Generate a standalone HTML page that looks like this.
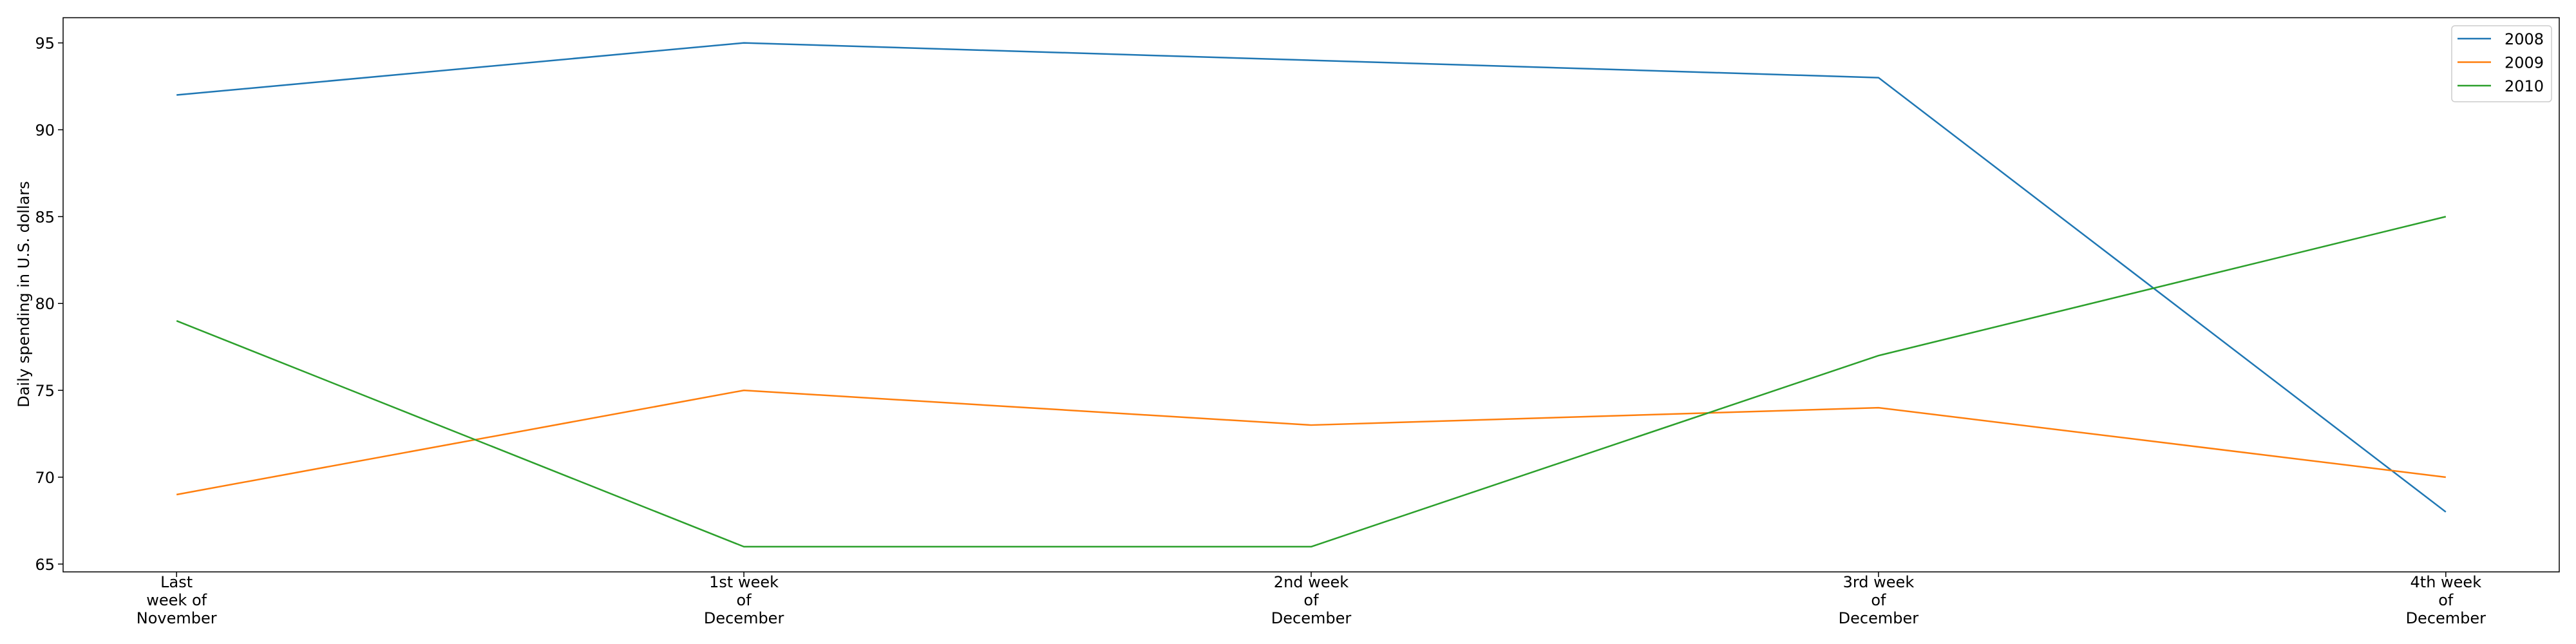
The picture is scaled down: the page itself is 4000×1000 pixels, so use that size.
<!DOCTYPE html>
<html><head><meta charset="utf-8"><style>
html,body{margin:0;padding:0;background:#fff;}
svg{display:block;font-family:"DejaVu Sans","Liberation Sans",sans-serif;}
</style></head><body>
<svg id="chart" width="4000" height="1000" viewBox="0 0 4000 1000">
<rect width="4000" height="1000" fill="#fff"/>
<g id="plot"></g>
</svg>
<script>
const categories = [["Last","week of","November"],["1st week","of","December"],["2nd week","of","December"],["3rd week","of","December"],["4th week","of","December"]];
const seriesNames = ["2008","2009","2010"];
const values2008 = [92,95,94,93,68];
const values2009 = [69,75,73,74,70];
const values2010 = [79,66,66,77,85];
const yTicks = [65,70,75,80,85,90,95];
const colors = ["#1f77b4","#ff7f0e","#2ca02c"];

const L=98,R=3974,T=27.5,B=888;
const xmin=-0.2,xmax=4.2,ymin=64.55,ymax=96.45;
const xs=i=>L+(i-xmin)/(xmax-xmin)*(R-L);
const ys=v=>B-(v-ymin)/(ymax-ymin)*(B-T);
const NS="http://www.w3.org/2000/svg";
const g=document.getElementById('plot');
function mk(t,a,p){const e=document.createElementNS(NS,t);for(const k in a)e.setAttribute(k,a[k]);(p||g).appendChild(e);return e;}
const FS=24;

yTicks.forEach(v=>{
  const y=ys(v);
  const tk=mk('line',{x1:L-8,x2:L,y1:y,y2:y,stroke:'#000','stroke-width':1.5});
  
  
  const t=mk('text',{x:L-13,y:y+9,'text-anchor':'end','font-size':FS,fill:'#000'});
  t.textContent=v;
  
  
});
categories.forEach((c,i)=>{
  const x=xs(i);
  const tk=mk('line',{x1:x,x2:x,y1:B,y2:B+8,stroke:'#000','stroke-width':1.5});
  
  
  const t=mk('text',{x:x,y:912,'text-anchor':'middle','font-size':FS,fill:'#000'});
  
  
  c.forEach((line,j)=>{const s=mk('tspan',{x:x,dy:j?28:0},t);s.textContent=line;});
});
const yl=mk('text',{x:0,y:0,transform:'translate(45,457) rotate(-90)','text-anchor':'middle','font-size':FS,fill:'#000'});
yl.textContent='Daily spending in U.S. dollars';



[values2008,values2009,values2010].forEach((vals,si)=>{
  const p=mk('polyline',{points:vals.map((v,i)=>xs(i)+','+ys(v)).join(' '),fill:'none',stroke:colors[si],'stroke-width':2.5,'stroke-linejoin':'round'});
  
  
});

const fr=mk('rect',{x:L,y:T,width:R-L,height:B-T,fill:'none',stroke:'#000','stroke-width':1.5});



const lg=mk('g',{});


mk('rect',{x:3807,y:40,width:155,height:118,rx:5,fill:'#fff','fill-opacity':0.8,stroke:'#ccc','stroke-width':1.5},lg);
seriesNames.forEach((n,i)=>{
  const y=60+i*36.5;
  const e=mk('g',{},lg);
  
  
  mk('line',{x1:3816,x2:3868,y1:y,y2:y,stroke:colors[i],'stroke-width':2.5},e);
  const t=mk('text',{x:3889,y:y+9,'font-size':FS,fill:'#000'},e);
  t.textContent=n;
});
</script>
</body></html>
